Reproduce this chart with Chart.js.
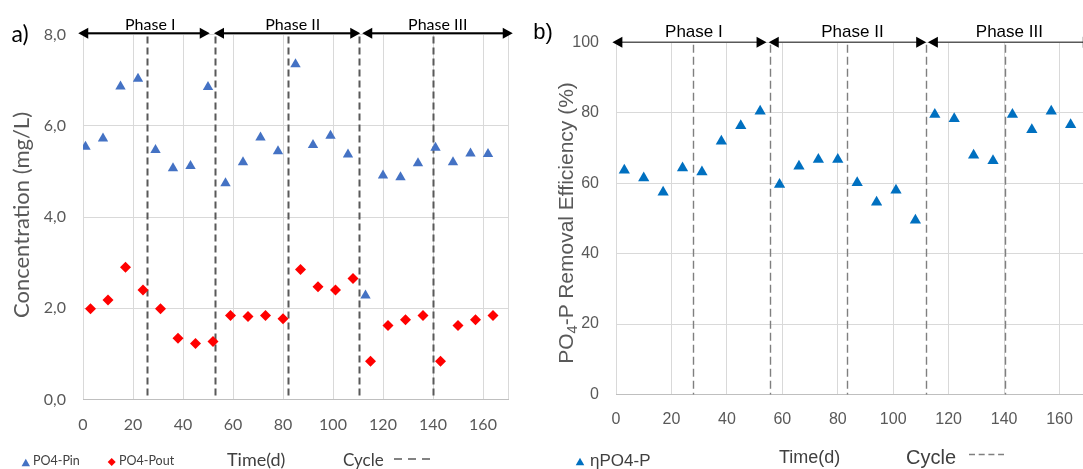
<!DOCTYPE html>
<html><head><meta charset="utf-8">
<script src="https://cdn.jsdelivr.net/npm/chart.js@4.4.1/dist/chart.umd.min.js"></script>
<style>
html,body{margin:0;padding:0;background:#fff;}
body{width:1083px;height:469px;overflow:hidden;position:relative;}
canvas{position:absolute;top:0;}
#ca{left:0;}
#cb{left:530px;}
.t{position:absolute;white-space:nowrap;line-height:1;transform:translate(-50%,-50%);}
.l{position:absolute;white-space:nowrap;line-height:1;transform:translateY(-50%);}
.fa{font-family:Lato,sans-serif;}
.fb{font-family:"Liberation Sans",Arial,sans-serif;}
sub{font-size:0.7em;vertical-align:-0.3em;line-height:0;}
</style></head>
<body>
<canvas id="ca" width="530" height="469"></canvas>
<canvas id="cb" width="600" height="469"></canvas>
<div class="t fa" style="left:20px;top:33px;font-size:23px;color:#000">a)</div>
<div class="t fb" style="left:543px;top:32px;font-size:22px;color:#000">b)</div>
<div class="t fa" style="left:21px;top:215px;font-size:22px;color:#595959;transform:translate(-50%,-50%) rotate(-90deg)">Concentration (mg/L)</div>
<div class="t fb" style="left:565px;top:223px;font-size:21px;color:#595959;transform:translate(-50%,-50%) rotate(-90deg)">PO<sub>4</sub>-P Removal Efficiency (%)</div>
<div class="l fa" style="left:33px;top:461px;font-size:12.5px;color:#404040">PO4-Pin</div>
<div class="l fa" style="left:119px;top:461px;font-size:12.5px;color:#404040">PO4-Pout</div>
<div class="l fa" style="left:227px;top:459px;font-size:18px;color:#404040">Time(d)</div>
<div class="l fa" style="left:343px;top:459px;font-size:17px;color:#404040">Cycle</div>
<div class="l fb" style="left:590px;top:459.5px;font-size:17px;color:#404040">ηPO4-P</div>
<div class="l fb" style="left:779px;top:457px;font-size:18px;color:#404040">Time(d)</div>
<div class="l fb" style="left:906px;top:457px;font-size:20px;color:#404040">Cycle</div>
<script>
// ---- data ----
const daysIn  = [1,8,15,22,29,36,43,50,57,64,71,78,85,92,99,106,113,120,127,134,141,148,155,162];
const po4In   = [5.54,5.72,6.86,7.03,5.47,5.07,5.12,6.85,4.74,5.20,5.74,5.44,7.35,5.58,5.78,5.37,2.28,4.91,4.87,5.18,5.52,5.20,5.39,5.38];
const daysOut = [3,10,17,24,31,38,45,52,59,66,73,80,87,94,101,108,115,122,129,136,143,150,157,164];
const po4Out  = [1.99,2.18,2.90,2.40,1.99,1.34,1.23,1.27,1.84,1.82,1.84,1.77,2.85,2.47,2.40,2.65,0.84,1.62,1.75,1.84,0.84,1.62,1.75,1.84];
const daysEff = [3,10,17,24,31,38,45,52,59,66,73,80,87,94,101,108,115,122,129,136,143,150,157,164];
const effPO4  = [63.7,61.5,57.4,64.3,63.2,71.9,76.3,80.4,59.6,64.8,66.7,66.7,60.1,54.6,58.0,49.5,79.5,78.3,67.9,66.4,79.5,75.2,80.4,76.6];

const xTicksA = [0,20,40,60,80,100,120,140,160];
const yTicksA = [0,2,4,6,8];
const xTicksB = [0,20,40,60,80,100,120,140,160];
const yTicksB = [0,20,40,60,80,100];

const phaseLabels = ['Phase I','Phase II','Phase III'];
const phaseLabelsB = ['Phase I','Phase II','Phase III'];
const phaseStartA = [-1.9, 52.4, 111.7];
const phaseEndA   = [50.7, 110.9, 171.9];
const phaseTextXA = [26.9, 83.9, 141.9];
const cycleA = [25.6, 52.9, 82.1, 110.2, 140.0];
const phaseStartB = [-1.3, 55.1, 112.5];
const phaseEndB   = [54.3, 111.9, 172];
const phaseTextXB = [28.1, 85.3, 141.9];
const cycleB = [27.7, 55.7, 83.5, 111.9, 140.2];

function tri(ctx, cx, cy, w){ const h = w*0.866; ctx.beginPath(); ctx.moveTo(cx, cy-h/2); ctx.lineTo(cx+w/2, cy+h/2); ctx.lineTo(cx-w/2, cy+h/2); ctx.closePath(); ctx.fill(); }
function dia(ctx, cx, cy, r){ ctx.beginPath(); ctx.moveTo(cx, cy-r); ctx.lineTo(cx+r, cy); ctx.lineTo(cx, cy+r); ctx.lineTo(cx-r, cy); ctx.closePath(); ctx.fill(); }

function overlay(cfg){
  return {
    id: 'ov',
    beforeDatasetsDraw(chart){
      const ctx = chart.ctx, a = chart.chartArea, x = chart.scales.x;
      ctx.save();
      ctx.strokeStyle = cfg.cycleColor; ctx.lineWidth = cfg.cycleWidth; ctx.setLineDash(cfg.cycleDash);
      cfg.cycles.forEach(c => { const px = Math.round(x.getPixelForValue(c)) + 0.5; ctx.beginPath(); ctx.moveTo(px, a.top + cfg.cycleTop); ctx.lineTo(px, a.bottom); ctx.stroke(); });
      ctx.restore();
    },
    afterDraw(chart){
      const ctx = chart.ctx, x = chart.scales.x, y = chart.scales.y;
      ctx.save();
      const py = y.getPixelForValue(cfg.arrowY);
      for (let i = 0; i < cfg.starts.length; i++){
        const x1 = x.getPixelForValue(cfg.starts[i]), x2 = x.getPixelForValue(cfg.ends[i]);
        ctx.strokeStyle = cfg.arrowLine; ctx.lineWidth = cfg.arrowWidth;
        ctx.beginPath(); ctx.moveTo(x1 + 4, py); ctx.lineTo(x2 - 4, py); ctx.stroke();
        ctx.fillStyle = '#000';
        ctx.beginPath(); ctx.moveTo(x1, py); ctx.lineTo(x1 + cfg.hl, py - cfg.hw); ctx.lineTo(x1 + cfg.hl, py + cfg.hw); ctx.closePath(); ctx.fill();
        ctx.beginPath(); ctx.moveTo(x2, py); ctx.lineTo(x2 - cfg.hl, py - cfg.hw); ctx.lineTo(x2 - cfg.hl, py + cfg.hw); ctx.closePath(); ctx.fill();
        ctx.font = cfg.phaseFont; ctx.textAlign = 'center'; ctx.textBaseline = 'middle'; ctx.fillStyle = '#000';
        ctx.fillText(cfg.labels[i], x.getPixelForValue(cfg.textX[i]), cfg.textY);
      }
      cfg.legend(ctx);
      ctx.restore();
    }
  };
}

function mkScales(o){
  return {
    x: { type:'linear', min:0, max:o.xmax,
      afterBuildTicks: s => { s.ticks = o.xt.map(v => ({value:v})); },
      ticks: { autoSkip:false, maxRotation:0, padding:o.xpad, color:'#595959', font:{family:o.font, size:16},
               callback: v => o.xlab.includes(v) ? String(v) : '' },
      grid: { color:'#d9d9d9', lineWidth:1, drawTicks:false },
      border: { color:'#bfbfbf', width:1 },
      afterFit: s => { s.height = 40; } },
    y: { type:'linear', min:0, max:o.ymax,
      afterBuildTicks: s => { s.ticks = o.yt.map(v => ({value:v})); },
      ticks: { padding:17, color:'#595959', font:{family:o.font, size:16}, callback: o.yfmt },
      grid: { color:'#d9d9d9', lineWidth:1, drawTicks:false },
      border: { display:false },
      afterFit: s => { s.width = 50; } }
  };
}

new Chart(document.getElementById('ca'), {
  type: 'scatter',
  data: { datasets: [
    { label:'PO4-Pin', data: daysIn.map((d,i) => ({x:d, y:po4In[i]})), pointStyle:'triangle', pointRadius:6, backgroundColor:'#4472C4', borderWidth:0 },
    { label:'PO4-Pout', data: daysOut.map((d,i) => ({x:d, y:po4Out[i]})), pointStyle:'rectRot', pointRadius:5.5, backgroundColor:'#FF0000', borderWidth:0 }
  ]},
  options: {
    responsive:false, animation:false, devicePixelRatio:1,
    layout: { padding: { left:33, right:22, top:34.5, bottom:29.5 } },
    plugins: { legend:{display:false}, tooltip:{enabled:false} },
    scales: mkScales({ xmax:170, xt: xTicksA.concat([170]), xlab: xTicksA, yt: yTicksA, ymax:8, font:'Lato', xpad:16,
      yfmt: v => v.toFixed(1).replace('.', ',') })
  },
  plugins: [ overlay({ cycles: cycleA, cycleColor:'#595959', cycleWidth:2, cycleDash:[7,4], cycleTop:2,
    starts: phaseStartA, ends: phaseEndA, arrowY: 8.03, arrowLine:'#000', arrowWidth:2, hl:10, hw:5.5,
    labels: phaseLabels, textX: phaseTextXA, textY: 25, phaseFont:'16px Lato',
    legend: ctx => {
      ctx.fillStyle = '#4472C4'; tri(ctx, 25.8, 462.5, 8.5);
      ctx.fillStyle = '#FF0000'; dia(ctx, 111.7, 462, 4);
      ctx.strokeStyle = '#595959'; ctx.lineWidth = 1.5; ctx.setLineDash([8,6]);
      ctx.beginPath(); ctx.moveTo(394, 459); ctx.lineTo(430, 459); ctx.stroke(); ctx.setLineDash([]);
    } }) ]
});

new Chart(document.getElementById('cb'), {
  type: 'scatter',
  data: { datasets: [
    { label:'ηPO4-P', data: daysEff.map((d,i) => ({x:d, y:effPO4[i]})), pointStyle:'triangle', pointRadius:6.5, backgroundColor:'#0070C0', borderWidth:0 }
  ]},
  options: {
    responsive:false, animation:false, devicePixelRatio:1,
    layout: { padding: { left:36, right:14.5, top:42.3, bottom:34.5 } },
    plugins: { legend:{display:false}, tooltip:{enabled:false} },
    scales: mkScales({ xmax:180, xt: xTicksB.concat([180]), xlab: xTicksB, yt: yTicksB, ymax:100, font:'Liberation Sans', xpad:15,
      yfmt: v => String(v) })
  },
  plugins: [ overlay({ cycles: cycleB, cycleColor:'#7f7f7f', cycleWidth:1.4, cycleDash:[8,4], cycleTop:2.5,
    starts: phaseStartB, ends: phaseEndB, arrowY: 100, arrowLine:'#595959', arrowWidth:1.6, hl:10, hw:5.5,
    labels: phaseLabelsB, textX: phaseTextXB, textY: 32.5, phaseFont:'17px "Liberation Sans"',
    legend: ctx => {
      ctx.fillStyle = '#0070C0'; tri(ctx, 580 - 530, 461.5, 8.5);
      ctx.strokeStyle = '#7f7f7f'; ctx.lineWidth = 1.3; ctx.setLineDash([6,3.7]);
      ctx.beginPath(); ctx.moveTo(969 - 530, 454.5); ctx.lineTo(1004 - 530, 454.5); ctx.stroke(); ctx.setLineDash([]);
    } }) ]
});
</script>
</body></html>
